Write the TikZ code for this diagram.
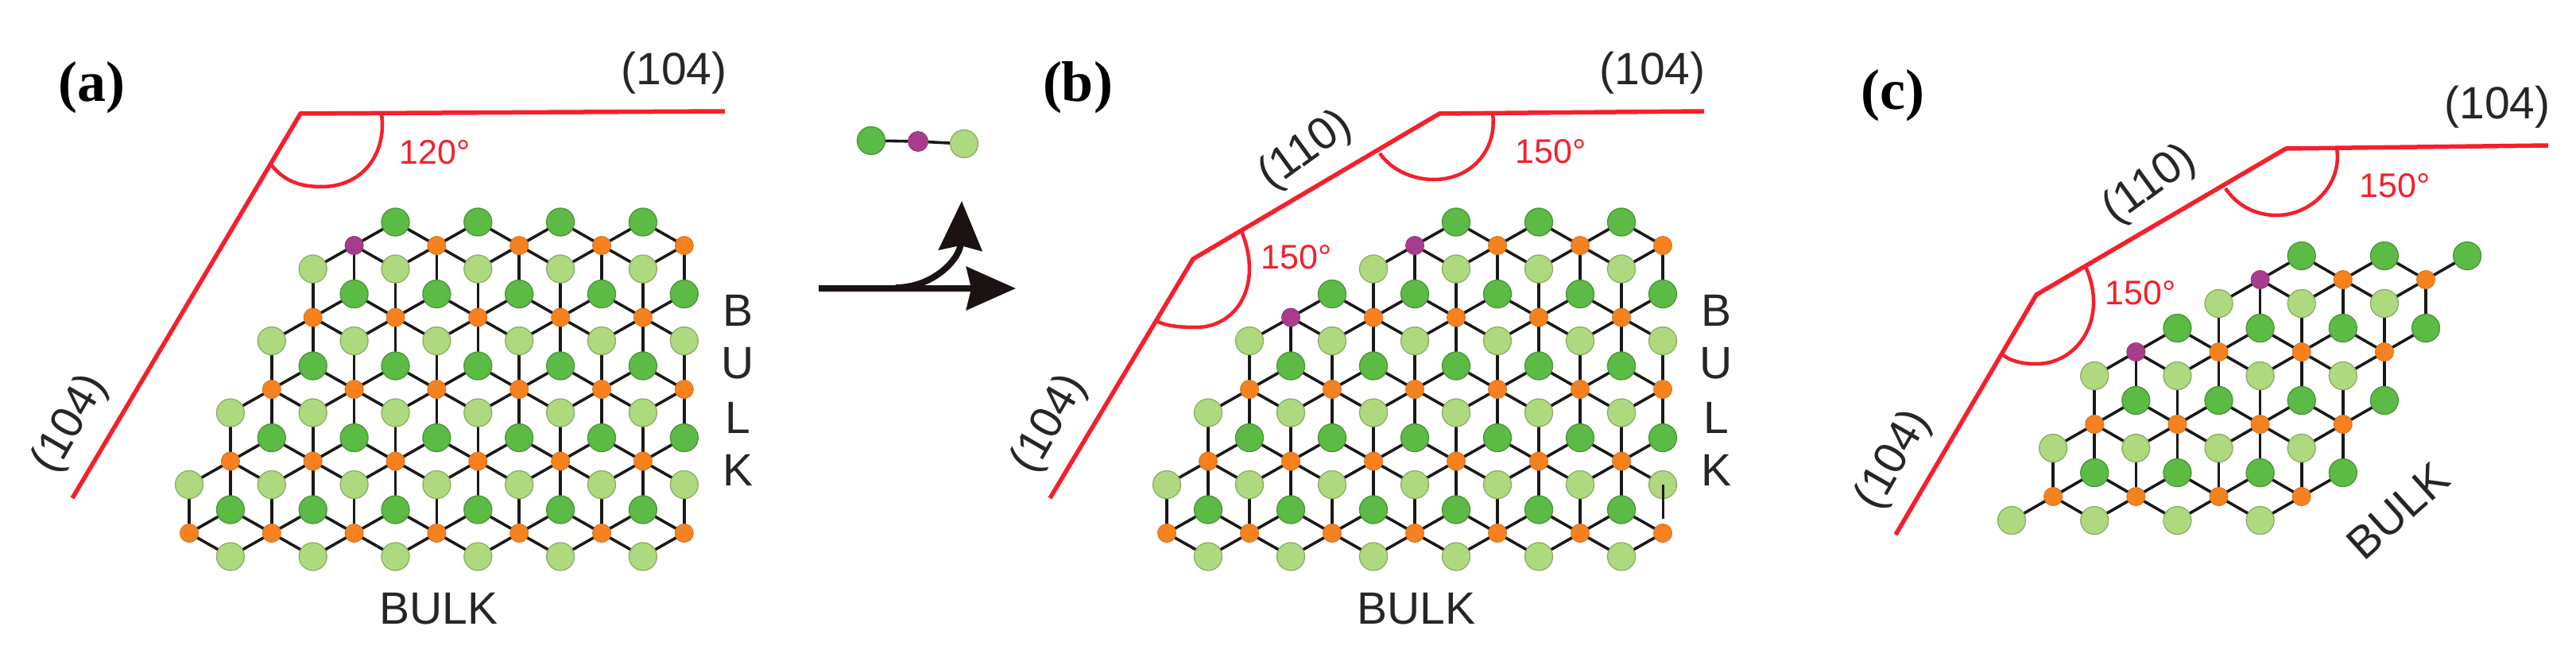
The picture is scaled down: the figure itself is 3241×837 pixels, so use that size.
\documentclass[tikz,border=0pt]{standalone}
\usepackage{fontspec}
\setmainfont{Liberation Sans}
\newfontfamily\serifbold{Liberation Serif}[BoldFont={Liberation Serif Bold}]
\usetikzlibrary{arrows.meta,backgrounds}
\definecolor{dgreen}{HTML}{5CBB45}
\definecolor{lgreen}{HTML}{AFD97E}
\definecolor{oatomc}{HTML}{F5821F}
\definecolor{patomc}{HTML}{A93B8C}
\definecolor{redline}{HTML}{F4202B}
\definecolor{arrowk}{HTML}{1A1311}
\tikzset{
  x=1pt,y=-1pt,
  darkatom/.style={circle,draw=dgreen!80!black,line width=1.3pt,fill=dgreen,minimum size=35pt,inner sep=0pt},
  lightatom/.style={circle,draw=lgreen!80!black,line width=1.3pt,fill=lgreen,minimum size=35pt,inner sep=0pt},
  orangeatom/.style={circle,draw=oatomc!90!black,line width=1pt,fill=oatomc,minimum size=23pt,inner sep=0pt},
  purpleatom/.style={circle,draw=patomc!90!black,line width=1pt,fill=patomc,minimum size=23pt,inner sep=0pt},
  bond/.style={line width=3.6pt,draw=black!90},
  redl/.style={draw=redline,line width=5.5pt,line join=miter},
  redarc/.style={draw=redline,line width=4.5pt},
  big/.style={font=\fontsize{57}{60}\selectfont,text=black!85,inner sep=0pt},
  ang/.style={font=\fontsize{43}{45}\selectfont,text=redline,inner sep=0pt},
  tag/.style={font=\fontsize{72}{74}\selectfont\serifbold\bfseries,text=black,inner sep=0pt},
  bigarrow/.style={draw=arrowk,line width=8pt,-{Stealth[length=62pt,width=54pt,inset=6pt,fill=arrowk]}},
}
\def\skipb{}
\newcommand\tryb[2]{%
  \ifcsname pgf@sh@ns@#2\endcsname
    \edef\thisb{#1--#2}%
    \ifx\thisb\skipb\else
      \draw[bond] (#1.center) -- (#2.center);%
    \fi
  \fi}
% #1 prefix, #2 x of u=0, #3 y of v=1, #4 half cell, #5 row step
% #6 orange, #7 purple, #8 light, #9 dark
\newcommand\panel[9]{%
  \def\bx{#2}\def\yo{#3}\def\hw{#4}\def\dv{#5}%
  \foreach \v/\us in {#6}{\foreach \u in \us{%
    \node[orangeatom] (#1O\u x\v) at ({\bx+\u*\hw},{\yo+(\v-1)*\dv}) {};}}%
  \foreach \v/\us in {#7}{\foreach \u in \us{%
    \node[purpleatom] (#1O\u x\v) at ({\bx+\u*\hw},{\yo+(\v-1)*\dv}) {};}}%
  \foreach \v/\us in {#8}{\foreach \u in \us{%
    \node[lightatom] (#1L\u x\v) at ({\bx+\u*\hw},{\yo+(\v-1)*\dv-61}) {};}}%
  \foreach \v/\us in {#9}{\foreach \u in \us{%
    \node[darkatom] (#1D\u x\v) at ({\bx+\u*\hw},{\yo+(\v-1)*\dv+61}) {};}}%
  \begin{pgfonlayer}{background}%
  \foreach \v/\us in {#6,#7}{\foreach \u in \us{%
    \pgfmathtruncatemacro\um{\u-1}%
    \pgfmathtruncatemacro\up{\u+1}%
    \pgfmathtruncatemacro\vm{\v-1}%
    \pgfmathtruncatemacro\vp{\v+1}%
    \tryb{#1O\u x\v}{#1L\u x\v}%
    \tryb{#1O\u x\v}{#1D\u x\v}%
    \tryb{#1O\u x\v}{#1D\up x\vm}%
    \tryb{#1O\u x\v}{#1D\um x\vm}%
    \tryb{#1O\u x\v}{#1L\um x\vp}%
    \tryb{#1O\u x\v}{#1L\up x\vp}%
  }}%
  \end{pgfonlayer}}
\begin{document}
\begin{tikzpicture}
\begin{pgfonlayer}{background}
\path[use as bounding box,fill=white] (0,0) rectangle (3241,837);
\end{pgfonlayer}

% ---------- panel a
\panel{a}{238}{309}{51.9}{90.5}
 {1/{6,8,10,12},2/{3,5,7,9,11},3/{2,4,6,8,10,12},4/{1,3,5,7,9,11},5/{0,2,4,6,8,10,12}}
 {1/{4}}
 {2/{3,5,7,9,11},3/{2,4,6,8,10,12},4/{1,3,5,7,9,11},5/{0,2,4,6,8,10,12},6/{1,3,5,7,9,11}}
 {0/{5,7,9,11},1/{4,6,8,10,12},2/{3,5,7,9,11},3/{2,4,6,8,10,12},4/{1,3,5,7,9,11}}
\coordinate (a1) at (91,627);
\coordinate (a2) at (378,143);
\coordinate (a3) at (912,140);
\draw[redl] (a1) -- (a2) -- (a3);
\coordinate (aarcS) at (341,207);
\coordinate (aarcB) at (405,235);
\coordinate (aarcE) at (480,143);
\draw[redarc] (aarcS) .. controls (360,232) and (385,235) .. (aarcB)
  .. controls (455,235) and (487,195) .. (aarcE);
\node[ang] (aang) at (547,192) {120°};
\node[tag] (atag) at (115,110) {(a)};
\node[big] (a104t) at (848,92) {(104)};
\node[big,rotate=60] (a104l) at (89,534) {(104)};
\node[big] (abulk) at (552,766) {BULK};
\node[big] (aB) at (928,391) {B};
\node[big] (aU) at (928,457) {U};
\node[big] (aL) at (928,526) {L};
\node[big] (aK) at (928,592) {K};

% ---------- molecule and arrows
\node[darkatom] (mD) at (1096,177) {};
\node[purpleatom,minimum size=25pt] (mP) at (1155,178) {};
\node[lightatom] (mL) at (1213,181) {};
\begin{pgfonlayer}{background}
\draw[bond] (mD.center) -- (mP.center);
\draw[bond] (mP.center) -- (mL.center);
\end{pgfonlayer}
\coordinate (arS) at (1030,363);
\coordinate (arE) at (1278,363);
\coordinate (arC) at (1127,362);
\coordinate (arU) at (1210,253);
\draw[bigarrow] (arS) -- (arE);
\draw[bigarrow] (arC) .. controls (1175,362) and (1208,325) .. (arU);

% ---------- panel b
\def\skipb{bO12x5--bL12x5}
\panel{b}{1468}{309}{52}{90.5}
 {1/{8,10,12},2/{5,7,9,11},3/{2,4,6,8,10,12},4/{1,3,5,7,9,11},5/{0,2,4,6,8,10,12}}
 {1/{6},2/{3}}
 {2/{5,7,9,11},3/{2,4,6,8,10,12},4/{1,3,5,7,9,11},5/{0,2,4,6,8,10,12},6/{1,3,5,7,9,11}}
 {0/{7,9,11},1/{4,6,8,10,12},2/{3,5,7,9,11},3/{2,4,6,8,10,12},4/{1,3,5,7,9,11}}
\def\skipb{}
\coordinate (bgap) at (2092,653);
\draw[line width=3pt,draw=black!90] (bL12x5.center) -- (bgap);
\coordinate (b1) at (1321,627);
\coordinate (b2) at (1501,326);
\coordinate (b3) at (1811,143);
\coordinate (b4) at (2144,140);
\draw[redl] (b1) -- (b2) -- (b3) -- (b4);
\coordinate (barcA) at (1736,193);
\coordinate (barcAb) at (1804,226);
\coordinate (barcAe) at (1878,143);
\draw[redarc] (barcA) .. controls (1752,216) and (1780,226) .. (barcAb)
  .. controls (1850,226) and (1884,190) .. (barcAe);
\coordinate (barcB) at (1457,405);
\coordinate (barcBb) at (1505,412);
\coordinate (barcBe) at (1562,291);
\draw[redarc] (barcB) .. controls (1470,411) and (1488,412) .. (barcBb)
  .. controls (1555,412) and (1590,360) .. (barcBe);
\node[ang] (bang1) at (1951,191) {150°};
\node[ang] (bang2) at (1631,324) {150°};
\node[tag] (btag) at (1356,110) {(b)};
\node[big] (b104t) at (2079,92) {(104)};
\node[big,rotate=60] (b104l) at (1321,534) {(104)};
\node[big,rotate=36] (b110) at (1643,190) {(110)};
\node[big] (bbulk) at (1782,766) {BULK};
\node[big] (bB) at (2159,391) {B};
\node[big] (bU) at (2159,457) {U};
\node[big] (bL) at (2159,526) {L};
\node[big] (bK) at (2159,592) {K};

% ---------- panel c
\panel{c}{2531}{352}{52.1}{91}
 {1/{8,10},2/{5,7,9},3/{2,4,6,8},4/{1,3,5,7}}
 {1/{6},2/{3}}
 {2/{5,7,9},3/{2,4,6,8},4/{1,3,5,7},5/{0,2,4,6}}
 {0/{7,9,11},1/{4,6,8,10},2/{3,5,7,9},3/{2,4,6,8}}
\coordinate (c1) at (2385,673);
\coordinate (c2) at (2562,371);
\coordinate (c3) at (2876,187);
\coordinate (c4) at (3206,183);
\draw[redl] (c1) -- (c2) -- (c3) -- (c4);
\coordinate (carcA) at (2800,237);
\coordinate (carcAb) at (2864,271);
\coordinate (carcAe) at (2940,187);
\draw[redarc] (carcA) .. controls (2815,260) and (2840,271) .. (carcAb)
  .. controls (2910,271) and (2947,230) .. (carcAe);
\coordinate (carcB) at (2519,446);
\coordinate (carcBb) at (2562,458);
\coordinate (carcBe) at (2624,336);
\draw[redarc] (carcB) .. controls (2530,455) and (2545,458) .. (carcBb)
  .. controls (2615,458) and (2653,400) .. (carcBe);
\node[ang] (cang1) at (3013,234) {150°};
\node[ang] (cang2) at (2693,369) {150°};
\node[tag] (ctag) at (2381,120) {(c)};
\node[big] (c104t) at (3142,135) {(104)};
\node[big,rotate=60] (c104l) at (2383,579) {(104)};
\node[big,rotate=36] (c110) at (2705,233) {(110)};
\node[big,rotate=42] (cbulk) at (3017,643) {BULK};
\end{tikzpicture}
\end{document}
